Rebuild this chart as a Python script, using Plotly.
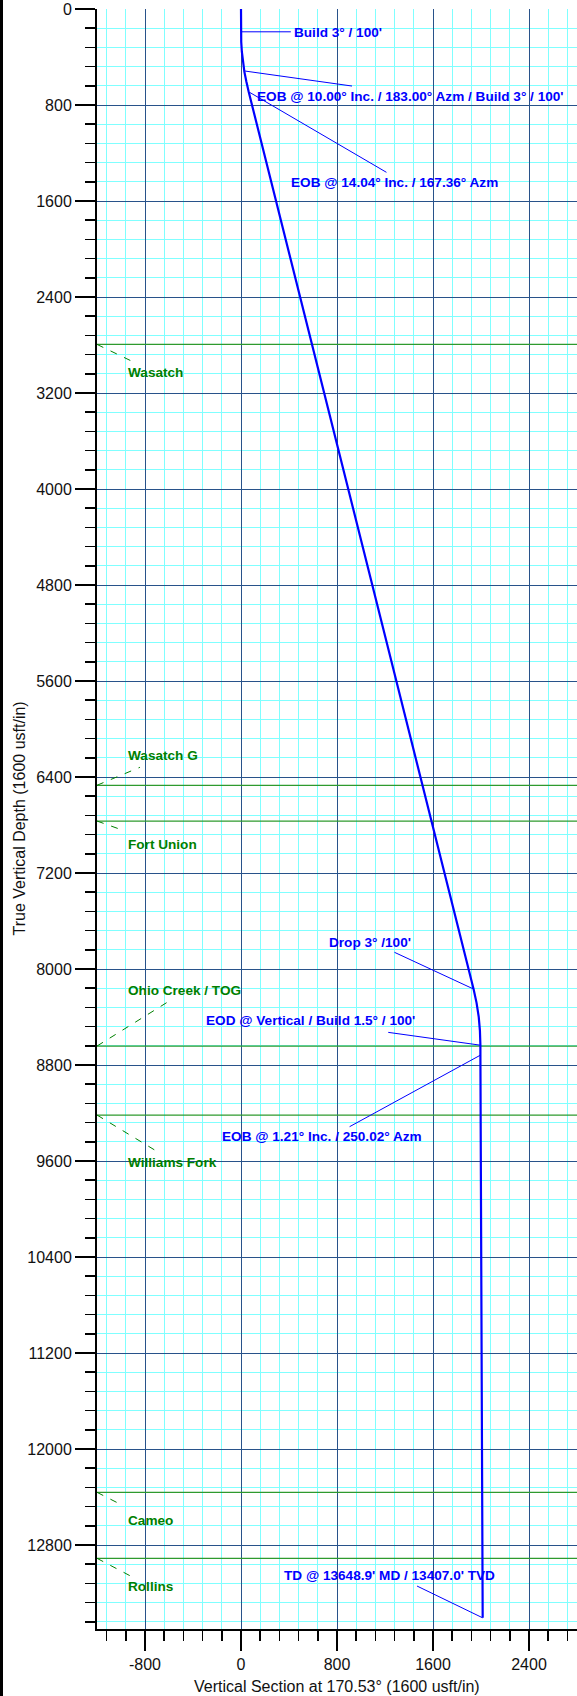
import plotly.graph_objects as go

# ---------------- data ----------------
# well path: vertical section (usft) and true vertical depth (usft)
well_vs = [0, 0, 1.8, 7.1, 16, 28, 45, 64, 1938, 1963, 1981, 1991, 1995, 1995, 2014]
well_tvd = [0, 190, 273, 356, 439, 522, 606, 690, 8167, 8282, 8398, 8514, 8635, 8718, 13407]

# well annotations
note_text = [
    "Build 3° / 100'",
    "EOB @ 10.00° Inc. / 183.00° Azm / Build 3° / 100'",
    "EOB @ 14.04° Inc. / 167.36° Azm",
    "Drop 3° /100'",
    "EOD @ Vertical / Build 1.5° / 100'",
    "EOB @ 1.21° Inc. / 250.02° Azm",
    "TD @ 13648.9' MD / 13407.0' TVD",
]
note_x = [436, 129, 408, 722, -303, -165, 353]
note_y = [194, 731, 1444, 7781, 8433, 9392, 13056]
# leader line: point on well -> point near label
lead_well_x = [0, 33, 64, 1938, 1995, 1995, 2014]
lead_well_y = [190, 517, 690, 8167, 8635, 8718, 13407]
lead_end_x = [415, 925, 1212, 1279, 1227, 905, 1467]
lead_end_y = [190, 642, 1361, 7861, 8528, 9314, 13142]

# formation tops
form_names = ["Wasatch", "Wasatch G", "Fort Union", "Ohio Creek / TOG",
              "Williams Fork", "Cameo", "Rollins"]
form_tvd = [2795, 6469, 6767, 8642, 9217, 12361, 12911]
form_label_y = [3031, 6222, 6961, 8175, 9610, 12592, 13142]
form_lead_x = [-883, -842, -967, -598, -692, -983, -910]
form_lead_y = [2948, 6319, 6850, 8267, 9525, 12472, 13064]
form_label_x = -950

# axes
x_range = [-1200, 2800]
y_range = [13500, 0]
x_tick_vals = [-800, 0, 800, 1600, 2400]
x_tick_text = ["-800", "0", "800", "1600", "2400"]
y_tick_vals = [0, 800, 1600, 2400, 3200, 4000, 4800, 5600, 6400, 7200, 8000,
               8800, 9600, 10400, 11200, 12000, 12800]
y_tick_text = [str(v) for v in y_tick_vals]
x_title = "Vertical Section at 170.53° (1600 usft/in)"
y_title = "True Vertical Depth (1600 usft/in)"

# ---------------- styling ----------------
FONT = "Liberation Sans, Arial, sans-serif"
BLUE = "#0000FF"
GREEN = "#008000"
MAJOR = "#28528A"
MINOR = "#80FFFF"

fig = go.Figure()

# formation tops
for name, tvd in zip(form_names, form_tvd):
    fig.add_trace(go.Scatter(x=x_range, y=[tvd, tvd], mode="lines",
                             line=dict(color="#2E9A2E", width=1.3),
                             hoverinfo="skip", showlegend=False))
# formation leaders (dashed)
for tvd, lx, ly in zip(form_tvd, form_lead_x, form_lead_y):
    fig.add_trace(go.Scatter(x=[x_range[0], lx], y=[tvd, ly], mode="lines",
                             line=dict(color=GREEN, width=1, dash="7px,8px"),
                             hoverinfo="skip", showlegend=False))

# well leaders
for wx, wy, ex, ey in zip(lead_well_x, lead_well_y, lead_end_x, lead_end_y):
    fig.add_trace(go.Scatter(x=[wx, ex], y=[wy, ey], mode="lines",
                             line=dict(color=BLUE, width=1),
                             hoverinfo="skip", showlegend=False))

# well path
fig.add_trace(go.Scatter(x=well_vs, y=well_tvd, mode="lines",
                         line=dict(color=BLUE, width=2.2),
                         hoverinfo="skip", showlegend=False))

annotations = []
for t, x, y in zip(note_text, note_x, note_y):
    annotations.append(dict(x=x, y=y, xref="x", yref="y", text=t, showarrow=False,
                            xanchor="left", yanchor="middle", borderpad=0,
                            font=dict(family=FONT, size=13.6, color=BLUE, weight="bold")))
for name, ly in zip(form_names, form_label_y):
    annotations.append(dict(x=form_label_x, y=ly, xref="x", yref="y", text=name,
                            showarrow=False, xanchor="left", yanchor="middle", borderpad=0,
                            font=dict(family=FONT, size=13.6, color=GREEN, weight="bold")))
# axis titles
annotations.append(dict(x=0.5, y=-0.0356, xref="paper", yref="paper", text=x_title,
                        showarrow=False, xanchor="center", yanchor="middle",
                        font=dict(family=FONT, size=16, color="#111111")))
annotations.append(dict(x=-0.1635, y=0.5, xref="paper", yref="paper", text=y_title,
                        showarrow=False, xanchor="center", yanchor="middle", textangle=-90,
                        font=dict(family=FONT, size=16, color="#111111")))

axis_common = dict(
    showgrid=True, gridcolor=MAJOR, gridwidth=1,
    ticks="outside", ticklen=20, tickwidth=2, tickcolor="black",
    showline=True, linecolor="black", linewidth=2, zeroline=False,
    tickfont=dict(family=FONT, size=16, color="#111111"),
    minor=dict(tickmode="linear", tick0=0, dtick=160, ticks="outside", ticklen=10,
               tickwidth=1.5, tickcolor="black", showgrid=True,
               gridcolor=MINOR, gridwidth=1),
)

fig.update_layout(
    width=577, height=1696,
    margin=dict(l=97, r=0, t=9, b=67),
    paper_bgcolor="white", plot_bgcolor="white",
    xaxis=dict(range=x_range, tickmode="array", tickvals=x_tick_vals,
               ticktext=x_tick_text, **axis_common),
    yaxis=dict(range=y_range, tickmode="array", tickvals=y_tick_vals,
               ticktext=y_tick_text, **axis_common),
    annotations=annotations,
    shapes=[dict(type="rect", xref="paper", yref="paper",
                 x0=-97 / 480, x1=-94 / 480, y0=-67 / 1620, y1=1 + 9 / 1620,
                 fillcolor="black", line=dict(width=0), layer="above")],
)

fig.write_html("out.html",
               config={"displayModeBar": False, "staticPlot": True},
               post_script="document.body.style.margin='0px';"
                           "document.body.style.overflow='hidden';")
